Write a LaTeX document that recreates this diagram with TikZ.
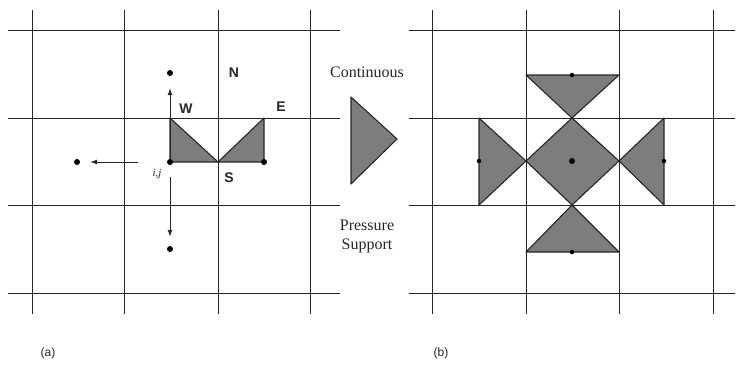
\documentclass[tikz,border=0pt]{standalone}
\usepackage{fontspec}
\setmainfont{Liberation Serif}
\setsansfont{Liberation Sans}
\usetikzlibrary{arrows.meta,calc}
\definecolor{cvInk}{HTML}{262626}
\definecolor{cvFill}{HTML}{7D7D7D}
\tikzset{
  gridline/.style={draw=cvInk,line width=.9pt},
  face/.style={fill=cvFill,draw=cvInk,line width=1.1pt,line join=round},
  pnode/.style={circle,fill=black,inner sep=0pt,minimum size=6pt},
  smallnode/.style={pnode,minimum size=4.5pt},
  link/.style={-{Latex[length=7pt,width=5pt]},draw=cvInk,line width=.9pt},
  facelabel/.style={font=\sffamily\bfseries\fontsize{14}{16}\selectfont,text=cvInk},
  note/.style={font=\fontsize{16}{19}\selectfont,align=center,text=cvInk},
  caption/.style={font=\sffamily\fontsize{12}{14}\selectfont,text=cvInk},
}
\begin{document}
\begin{tikzpicture}[x=1pt,y=-1pt]
  \useasboundingbox (0,0) rectangle (736,368);
  % grids
  \foreach \x in {32,124,218,310} {
    \draw[gridline] (\x,10) -- (\x,314);
  }
  \foreach \x in {432,526,619,713} {
    \draw[gridline] (\x,10) -- (\x,314);
  }
  \foreach \y in {30,118,205,293} {
    \draw[gridline] (8,\y) -- (340,\y);
    \draw[gridline] (409,\y) -- (735,\y);
  }
  % (a) half control volumes around i,j
  \draw[face] (170,118) -- (170,162) -- (218,162) -- cycle;
  \draw[face] (218,162) -- (264,118) -- (264,162) -- cycle;
  \node[pnode] (ij) at (170,162) {};
  \node[pnode] (top) at (170,73) {};
  \node[pnode] (west) at (77,162) {};
  \node[pnode] (south) at (170,249) {};
  \node[pnode] (east) at (264,162) {};
  \draw[link,shorten >=12pt] (ij) -- (top);
  \draw[link,shorten <=29pt,shorten >=10pt] (ij) -- (west);
  \draw[link,shorten <=12pt,shorten >=9pt] (ij) -- (south);
  \node[facelabel] (lN) at (234,73) {N};
  \node[facelabel] (lW) at (186,109) {W};
  \node[facelabel] (lE) at (281,107) {E};
  \node[facelabel] (lS) at (229,178) {S};
  \node[font=\itshape\fontsize{11}{12}\selectfont,text=cvInk] (lij) at (157,174) {i,j};
  % middle legend
  \node[note] (cont) at (367,72) {Continuous};
  \draw[face] (351,97) -- (397,139) -- (351,184) -- cycle;
  \node[note] (press) at (367,236) {Pressure\\Support};
  % (b) pressure support volumes
  \draw[face] (572,118) -- (619,161) -- (572,205) -- (526,161) -- cycle;
  \draw[face] (526,75) -- (619,75) -- (572,118) -- cycle;
  \draw[face] (572,205) -- (619,252) -- (526,252) -- cycle;
  \draw[face] (479,118) -- (526,161) -- (479,205) -- cycle;
  \draw[face] (664,118) -- (664,205) -- (619,161) -- cycle;
  \node[pnode] (c) at (572,161) {};
  \node[smallnode] (cn) at (572,75) {};
  \node[smallnode] (cs) at (572,252) {};
  \node[smallnode] (cw) at (479,161) {};
  \node[smallnode] (ce) at (664,161) {};
  % captions
  \node[caption] (capa) at (48,353) {(a)};
  \node[caption] (capb) at (441,353) {(b)};
\end{tikzpicture}
\end{document}
